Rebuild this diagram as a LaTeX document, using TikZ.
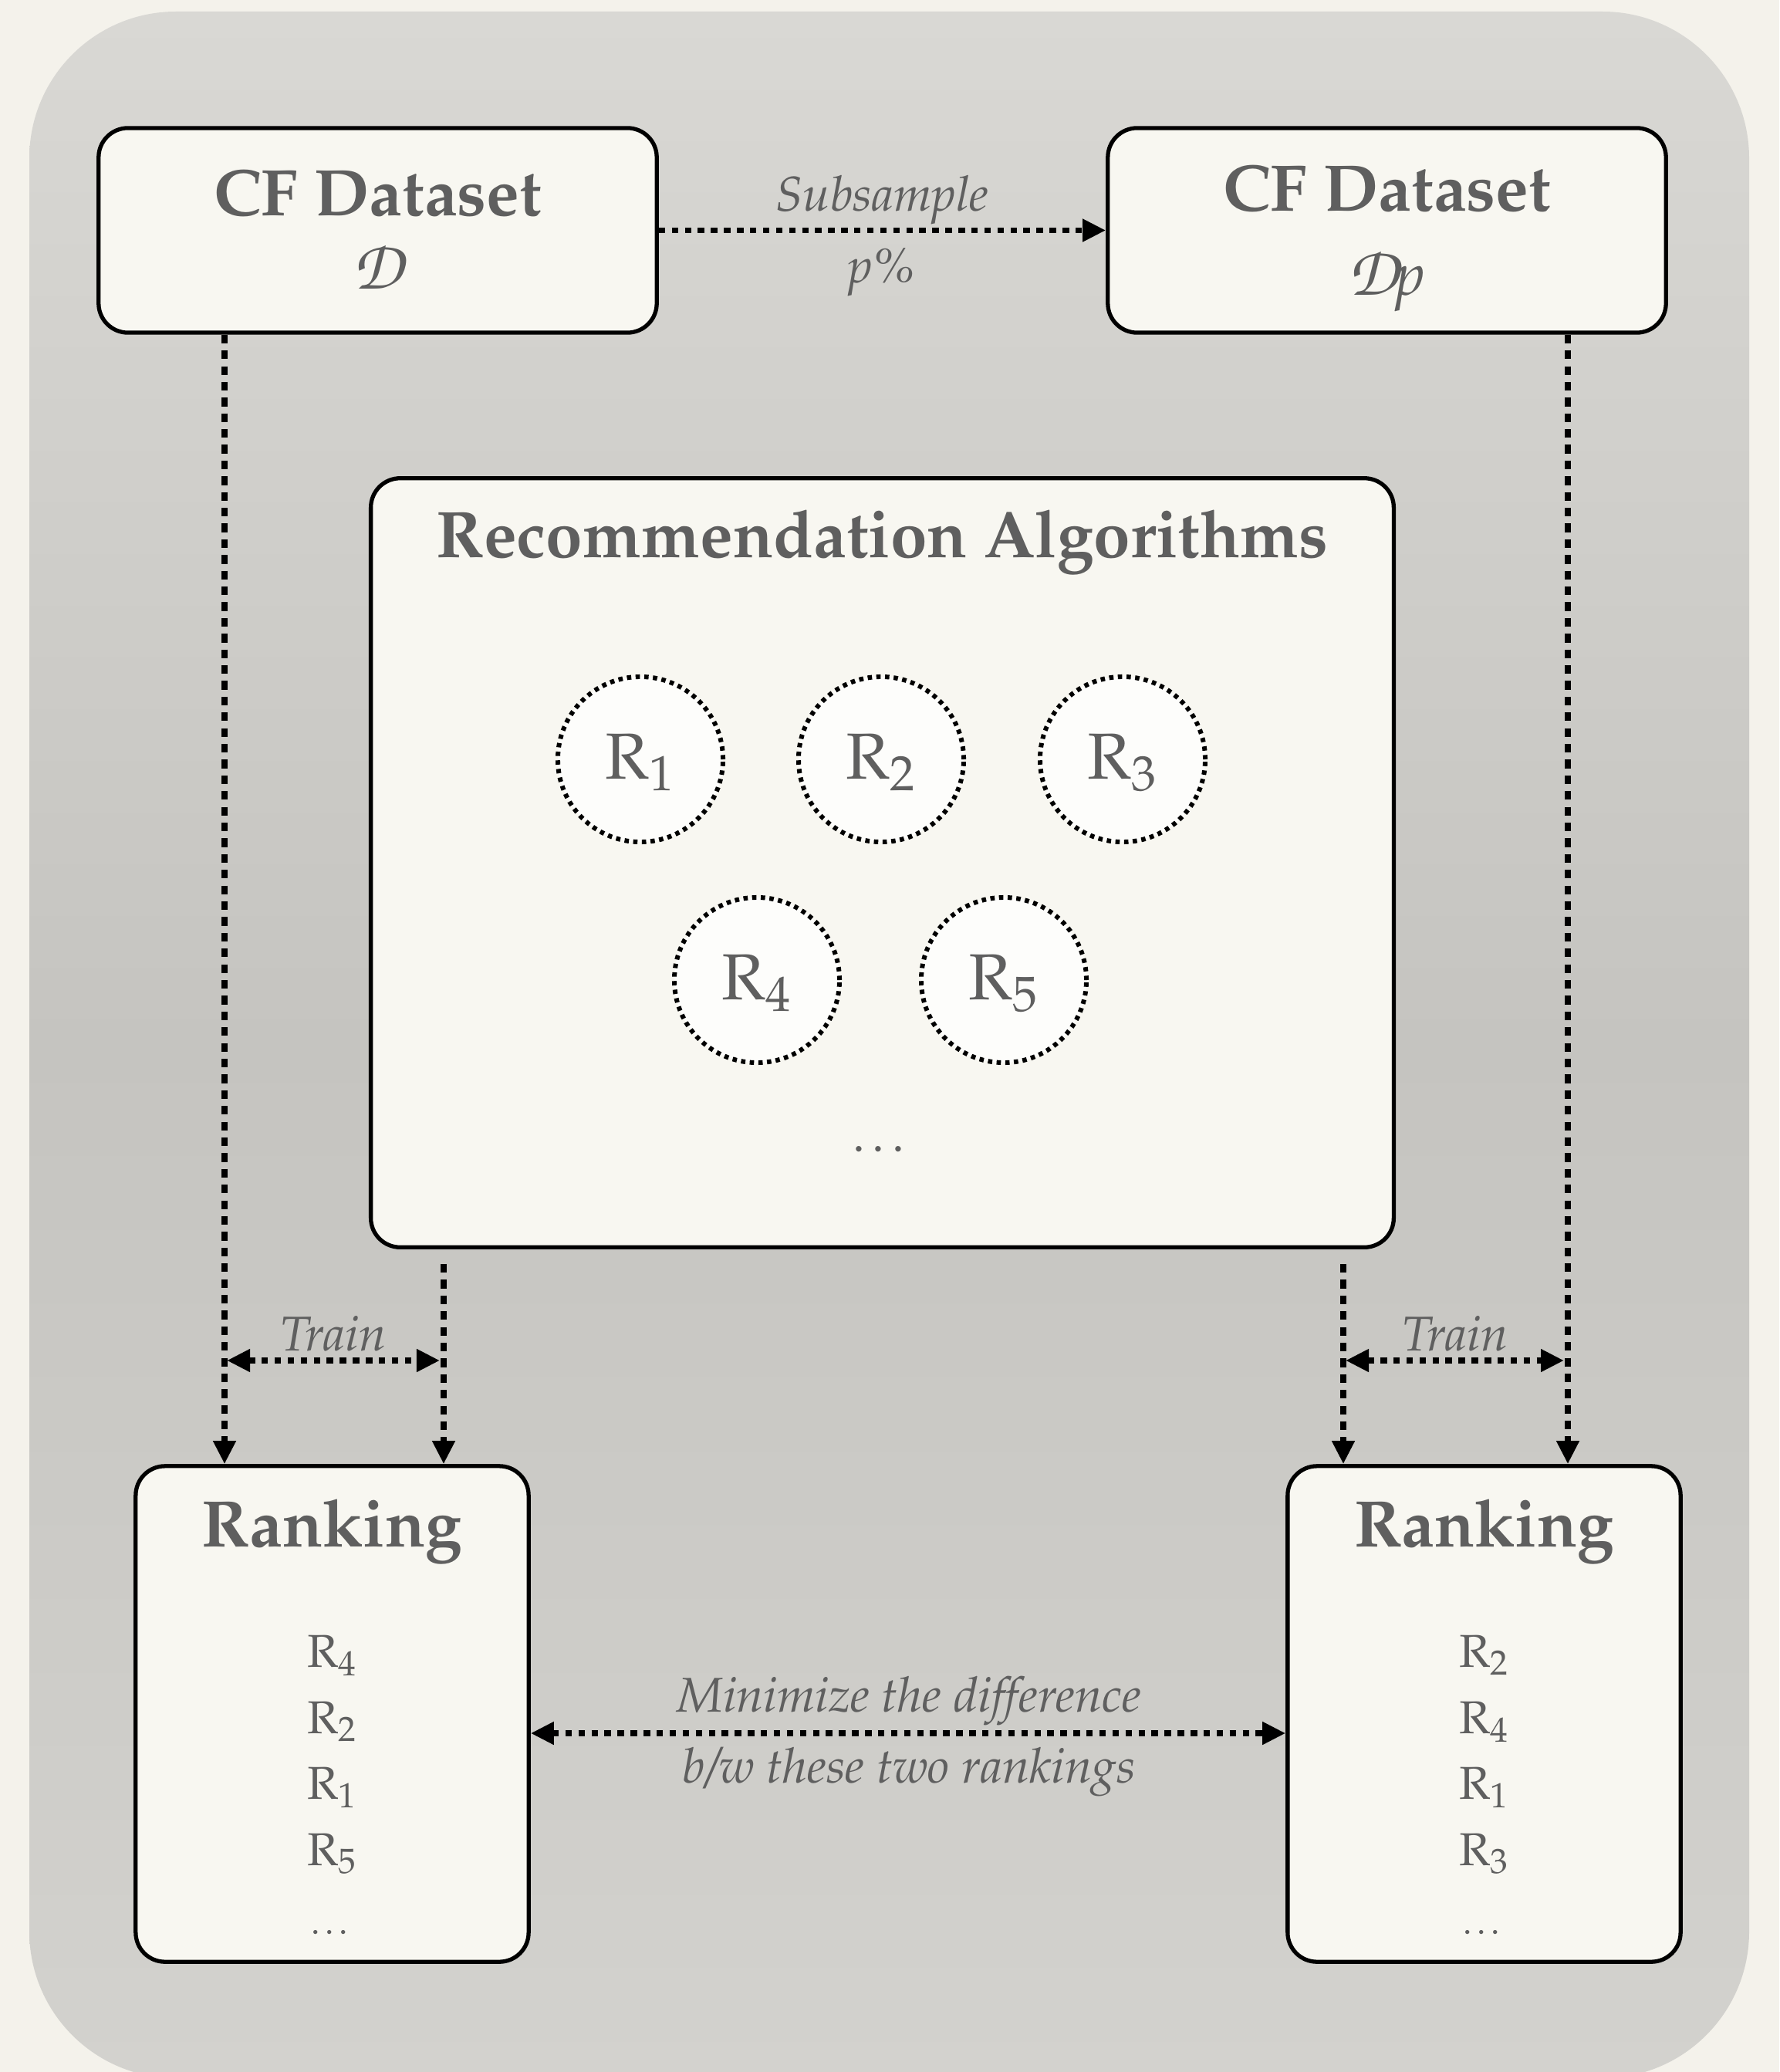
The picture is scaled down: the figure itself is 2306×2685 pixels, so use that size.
\documentclass[tikz,border=0pt]{standalone}
\usepackage[T1]{fontenc}
\usepackage{mathpazo}
\usetikzlibrary{arrows.meta}

\definecolor{papercream}{HTML}{F4F2EB}
\definecolor{paneltop}{HTML}{D9D8D4}
\definecolor{panelmid}{HTML}{C5C4C0}
\definecolor{panelbot}{HTML}{D3D2CE}
\definecolor{boxfill}{HTML}{F8F7F1}
\definecolor{inkgray}{HTML}{5F5F5F}

\newcommand{\chanc}[1]{{\fontfamily{pzc}\fontshape{it}\selectfont #1}}

\tikzset{
  x=0.01cm, y=-0.01cm,
  panelbox/.style={draw=black, line width=1.5pt, fill=boxfill, rounded corners=0.38cm, inner sep=0pt},
  algcircle/.style={circle, draw=black, line width=1.7pt, dash pattern=on 1.6pt off 1.6pt, fill=white!70!boxfill, minimum size=2.14cm, inner sep=0pt},
  txt/.style={text=inkgray, inner sep=0pt, anchor=base},
  titlefont/.style={font=\fontsize{24.3}{29}\selectfont\bfseries},
  labelfont/.style={font=\fontsize{18}{22}\selectfont\itshape},
  itemfont/.style={font=\fontsize{17}{20}\selectfont},
  circfont/.style={font=\fontsize{24}{28}\selectfont},
  hdash/.style={line width=2.1pt, dash pattern=on 2.4pt off 2.4pt},
  vdash/.style={line width=2.1pt, dash pattern=on 3.2pt off 2.6pt},
  tip/.style={-{Triangle[length=0.3cm, width=0.28cm]}},
  twotip/.style={{Triangle[length=0.3cm, width=0.28cm]}-{Triangle[length=0.3cm, width=0.28cm]}},
}

\begin{document}
\begin{tikzpicture}
\useasboundingbox (0,0) rectangle (2306,2685);
\fill[papercream] (0,0) rectangle (2306,2685);

% grey panel behind the whole flow
\begin{scope}
\clip (0,0) rectangle (2306,2685);
\shade[top color=paneltop, bottom color=panelbot, middle color=panelmid, rounded corners=1.9cm]
  (38,15) rectangle (2267,2693);
\end{scope}

% main boxes
\node[panelbox, minimum width=7.23cm, minimum height=2.65cm] (D) at (489.5,298.5) {};
\node[panelbox, minimum width=7.23cm, minimum height=2.65cm] (Dp) at (1797.5,298.5) {};
\node[panelbox, minimum width=13.25cm, minimum height=9.96cm] (Rec) at (1143.5,1118) {};
\node[panelbox, minimum width=5.09cm, minimum height=6.42cm] (RankL) at (430.5,2221) {};
\node[panelbox, minimum width=5.09cm, minimum height=6.42cm] (RankR) at (1923.5,2221) {};

% box texts
\node[txt, titlefont] (Dtitle) at (489.5,280) {CF Dataset};
\node[txt, font=\fontsize{26}{30}\selectfont] (Dsym) at (489.5,375) {\chanc{D}};
\node[txt, titlefont] (Dptitle) at (1797.5,274) {CF Dataset};
\node[txt, font=\fontsize{26}{30}\selectfont] (Dpsym) at (1797.5,383) {\chanc{D}\kern-1pt{\fontsize{22}{26}\selectfont\itshape p}};
\node[txt, titlefont] (Rectitle) at (1143.5,722) {Recommendation Algorithms};
\node[txt, titlefont] (RLtitle) at (430.5,2004) {Ranking};
\node[txt, titlefont] (RRtitle) at (1923.5,2004) {Ranking};

% algorithms
\node[algcircle] (R1) at (830,984) {};
\node[algcircle] (R2) at (1142,984) {};
\node[algcircle] (R3) at (1455,984) {};
\node[algcircle] (R4) at (981,1270) {};
\node[algcircle] (R5) at (1301,1270) {};
\foreach \n/\p in {1/R1,2/R2,3/R3,4/R4,5/R5}
  \node[txt, circfont, anchor=center] (\p lbl) at ([yshift=-0.04cm]\p.center) {R$_{\n}$};
\node[txt, font=\fontsize{18}{22}\selectfont] (Recdots) at (1143.5,1492) {\dots};

% ranking lists
\foreach \r/\y [count=\i] in {4/2160,2/2246,1/2331,5/2417}
  \node[txt, itemfont] (L\i) at (430.5,\y) {R$_{\r}$};
\node[txt, font=\fontsize{13}{16}\selectfont] (Ldots) at (430.5,2506) {\dots};
\foreach \r/\y [count=\i] in {2/2160,4/2246,1/2331,3/2417}
  \node[txt, itemfont] (Rt\i) at (1923.5,\y) {R$_{\r}$};
\node[txt, font=\fontsize{13}{16}\selectfont] (Rdots) at (1923.5,2506) {\dots};

% connector columns and rows
\coordinate (xl) at (291,0);
\coordinate (xa) at (575,0);
\coordinate (xb) at (1741,0);
\coordinate (xr) at (2032,0);
\coordinate (ty) at (0,1763);
\coordinate (my) at (0,2246);

% subsample
\draw[hdash, tip] (D.east) -- (Dp.west);
\node[txt, labelfont] (sub1) at (1143.5,274) {Subsample};
\node[txt, labelfont] (sub2) at (1143.5,367) {p\%};

% datasets down to rankings
\draw[vdash, tip] (D.south -| xl) -- (RankL.north -| xl);
\draw[vdash, tip] (Dp.south -| xr) -- (RankR.north -| xr);
% algorithms down to rankings
\draw[vdash, tip] ([yshift=-0.19cm]Rec.south -| xa) -- (RankL.north -| xa);
\draw[vdash, tip] ([yshift=-0.19cm]Rec.south -| xb) -- (RankR.north -| xb);

% train
\draw[hdash, twotip] ([xshift=0.03cm]xl |- ty) -- ([xshift=-0.05cm]xa |- ty);
\draw[hdash, twotip] ([xshift=0.03cm]xb |- ty) -- ([xshift=-0.05cm]xr |- ty);
\node[txt, labelfont] (trainL) at (432,1750) {Train};
\node[txt, labelfont] (trainR) at (1886,1750) {Train};

% ranking comparison
\draw[hdash, twotip] (RankL.east |- my) -- (RankR.west |- my);
\node[txt, labelfont] (min1) at (1178,2218) {Minimize the difference};
\node[txt, labelfont] (min2) at (1178,2310) {b/w these two rankings};
\end{tikzpicture}
\end{document}
